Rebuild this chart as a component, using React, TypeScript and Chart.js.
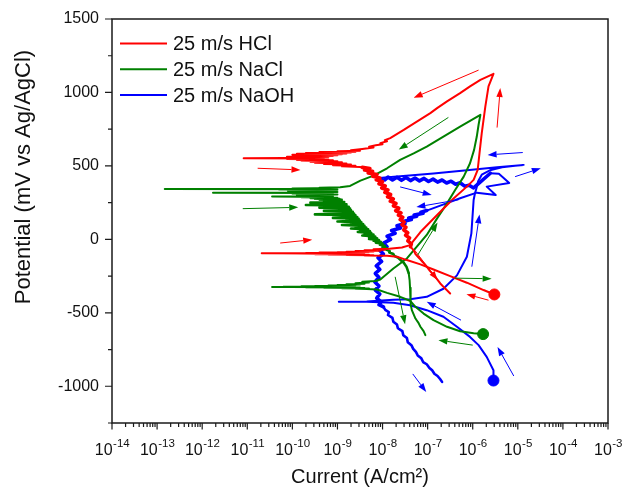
import { useEffect, useRef } from 'react';
import { Chart, registerables } from 'chart.js';

Chart.register(...registerables);

// Each point: [log10 of current density (A/cm²), potential (mV vs Ag/AgCl)]
type Pt = [number, number];

// ---------------- 25 m/s HCl ----------------
const hclForwardCathodic: Pt[] = [
  [-5.52, -375], [-5.76, -345], [-6.13, -295], [-6.5, -250], [-6.87, -205],
  [-7.16, -170], [-7.46, -141], [-7.68, -118], [-7.9, -112],
];
const hclForwardEcorr: Pt[] = [
  [-8.4, -110], [-8.2, -108], [-8.8, -106], [-8.3, -105], [-9.2, -103], [-8.4, -102],
  [-9.5, -100.5], [-8.6, -99.5], [-9.9, -98.5], [-8.7, -97.5], [-10.2, -96.5], [-8.9, -96],
  [-10.68, -95], [-9.0, -94.5], [-10.3, -94], [-8.8, -93], [-9.7, -92], [-8.6, -91],
  [-9.4, -90], [-8.5, -88.5], [-9.0, -87], [-8.3, -85.5], [-8.8, -84], [-8.2, -82],
  [-8.6, -80], [-8.05, -77], [-8.4, -74], [-7.95, -71], [-8.2, -68], [-7.85, -64],
];
const hclForwardAnodic: Pt[] = [
  [-7.57, -55], [-7.39, -39], [-7.16, 50], [-6.79, 166], [-6.42, 280], [-6.13, 359],
  [-5.98, 405], [-5.89, 473], [-5.85, 586], [-5.8, 723], [-5.72, 905], [-5.65, 1041],
  [-5.54, 1127],
];
const hclReverseUpper: Pt[] = [
  [-5.83, 1086], [-6.06, 1041], [-6.28, 995], [-6.57, 939], [-6.79, 893], [-6.94, 859],
  [-7.24, 802], [-7.53, 745], [-7.83, 689], [-7.95, 675], [-7.9, 668], [-8.05, 655],
  [-8.0, 648], [-8.15, 640], [-8.3, 630], [-8.2, 625], [-8.45, 615], [-8.6, 610],
];
const hclReverseEcorr: Pt[] = [
  [-8.7, 606], [-8.5, 603], [-9.0, 600], [-8.6, 597], [-9.4, 594], [-8.7, 591],
  [-9.7, 588], [-8.8, 585], [-9.9, 582], [-8.9, 579], [-10.0, 576], [-9.0, 573],
  [-9.8, 570], [-9.1, 567], [-10.12, 563], [-9.2, 560], [-9.9, 557], [-9.3, 555],
  [-11.08, 552], [-9.4, 550], [-10.12, 547], [-9.2, 544], [-9.9, 541], [-9.1, 538],
  [-9.8, 535], [-9.0, 532], [-9.6, 528], [-8.9, 525], [-9.5, 521], [-8.8, 517],
  [-9.3, 513], [-8.7, 509], [-9.1, 505], [-8.6, 501], [-8.9, 497], [-8.5, 493],
];
const hclReverseBand: Pt[] = [
  [-8.45, 490], [-8.28, 482], [-8.4, 472], [-8.22, 463], [-8.32, 452], [-8.12, 442],
  [-8.22, 430], [-8.06, 418], [-8.14, 405], [-8.0, 392], [-8.08, 378], [-7.94, 364],
  [-8.02, 350], [-7.88, 336], [-7.95, 320], [-7.82, 305], [-7.89, 290], [-7.76, 275],
  [-7.83, 260], [-7.7, 245], [-7.76, 228], [-7.64, 212], [-7.71, 195], [-7.59, 180],
  [-7.65, 165], [-7.55, 150], [-7.61, 135], [-7.52, 118], [-7.57, 100], [-7.48, 82],
  [-7.53, 64], [-7.44, 45], [-7.49, 28], [-7.4, 10], [-7.44, -10], [-7.36, -30],
];
const hclReverseTail: Pt[] = [
  [-7.38, -50], [-7.31, -75], [-7.27, -100], [-7.18, -130], [-7.12, -152], [-7.02, -185],
  [-6.95, -214], [-6.83, -255], [-6.72, -300], [-6.61, -335], [-6.5, -368],
];

// ---------------- 25 m/s NaCl ----------------
const naclForwardCathodic: Pt[] = [
  [-5.77, -645], [-5.98, -639], [-6.28, -625], [-6.57, -595], [-6.87, -550], [-7.09, -505],
  [-7.27, -459], [-7.39, -418], [-7.61, -391], [-7.9, -364], [-8.12, -341],
];
const naclForwardEcorr: Pt[] = [
  [-8.35, -338], [-8.6, -336], [-8.3, -334], [-8.9, -332], [-8.4, -330.5], [-9.3, -329],
  [-8.5, -328], [-9.7, -327], [-8.6, -326], [-10.1, -325], [-8.8, -324.2], [-10.45, -323.5],
  [-9.0, -323], [-10.2, -322], [-8.9, -321], [-9.8, -320], [-8.8, -318.5], [-9.5, -317],
  [-8.7, -315.5], [-9.2, -314], [-8.6, -312], [-9.0, -310], [-8.5, -308], [-8.8, -305],
  [-8.4, -302], [-8.6, -298], [-8.3, -294], [-8.45, -289], [-8.15, -283],
];
const naclForwardAnodic: Pt[] = [
  [-8.05, -273], [-7.76, -198], [-7.46, -130], [-7.24, -50], [-7.02, 30], [-6.79, 143],
  [-6.57, 245], [-6.39, 336], [-6.2, 427], [-6.06, 518], [-5.97, 609], [-5.91, 700],
  [-5.87, 780], [-5.83, 848],
];
const naclReverseUpper: Pt[] = [
  [-6.28, 768], [-6.65, 700], [-7.02, 632], [-7.31, 586], [-7.61, 541], [-7.9, 484],
  [-8.2, 434], [-8.49, 400], [-8.72, 364], [-8.94, 354],
];
const naclReverseEcorr: Pt[] = [
  [-9.4, 352], [-9.0, 349], [-10.0, 347], [-9.1, 345], [-12.83, 343], [-9.2, 341],
  [-10.3, 339], [-9.0, 337], [-9.9, 335], [-9.1, 333], [-10.1, 331], [-9.2, 329],
  [-9.7, 326], [-9.0, 323], [-9.9, 321], [-9.2, 319], [-11.76, 318], [-9.3, 316],
  [-10.0, 313], [-9.1, 311], [-9.8, 308], [-9.0, 305], [-9.9, 302], [-9.2, 299],
  [-9.7, 296], [-9.1, 293], [-10.45, 291], [-9.2, 289], [-9.8, 286], [-9.0, 283],
  [-9.6, 280], [-8.95, 277], [-9.5, 274], [-8.9, 271], [-9.4, 268], [-8.9, 264],
];
const naclReverseBand: Pt[] = [
  [-9.3, 258], [-8.85, 254], [-9.6, 250], [-8.85, 246], [-9.2, 242], [-8.8, 238],
  [-9.7, 234], [-8.8, 230], [-9.1, 226], [-8.75, 222], [-9.4, 216], [-8.72, 210],
  [-9.0, 205], [-8.7, 200], [-9.3, 194], [-8.66, 188], [-8.95, 182], [-8.63, 176],
  [-9.5, 170], [-8.6, 164], [-8.85, 158], [-8.56, 152], [-9.1, 146], [-8.53, 140],
  [-8.8, 134], [-8.5, 128], [-9.0, 122], [-8.47, 116], [-8.7, 110], [-8.43, 104],
  [-8.9, 98], [-8.4, 92], [-8.6, 86], [-8.36, 80], [-8.7, 74], [-8.32, 68],
  [-8.5, 62], [-8.28, 56], [-8.55, 50], [-8.25, 44], [-8.4, 38], [-8.2, 32],
  [-8.45, 26], [-8.16, 20], [-8.3, 14], [-8.12, 8], [-8.3, 2], [-8.08, -4],
  [-8.2, -10], [-8.04, -16], [-8.15, -22], [-8.0, -28], [-8.06, -36], [-7.95, -44],
  [-8.0, -52], [-7.9, -60], [-7.92, -70], [-7.84, -80], [-7.85, -90], [-7.76, -100],
  [-7.74, -112], [-7.66, -124], [-7.6, -140], [-7.53, -160], [-7.47, -186],
];
const naclReverseTail: Pt[] = [
  [-7.42, -230], [-7.4, -277], [-7.39, -330], [-7.385, -391], [-7.37, -440], [-7.35, -482],
  [-7.27, -539], [-7.2, -570], [-7.16, -595], [-7.09, -625], [-7.05, -652],
];

// ---------------- 25 m/s NaOH ----------------
const naohForwardCathodic: Pt[] = [
  [-5.54, -961], [-5.54, -891], [-5.69, -800], [-5.87, -720], [-6.06, -664], [-6.35, -595],
  [-6.65, -527], [-7.02, -482], [-7.39, -448], [-7.76, -432], [-8.35, -425], [-8.97, -425],
];
const naohForwardAnodic: Pt[] = [
  [-8.35, -423], [-7.76, -411], [-7.39, -407], [-7.02, -391], [-6.65, -336], [-6.35, -245],
  [-6.13, -118], [-6.03, 41], [-6.0, 177], [-5.98, 268], [-5.95, 314], [-5.92, 345],
  [-5.88, 395], [-5.8, 440], [-5.62, 470], [-5.35, 490], [-4.87, 507],
];
const naohReverseTop: Pt[] = [
  [-5.46, 491], [-6.13, 470], [-6.87, 448], [-7.61, 430], [-8.01, 420], [-8.09, 418],
];
const naohReverseBand: Pt[] = [
  [-7.95, 405], [-7.88, 424], [-7.78, 404], [-7.68, 423], [-7.58, 402], [-7.48, 421],
  [-7.38, 400], [-7.28, 418], [-7.18, 398], [-7.08, 415], [-6.98, 394], [-6.88, 410],
  [-6.78, 390], [-6.68, 404], [-6.58, 384], [-6.48, 396], [-6.38, 375], [-6.28, 385],
  [-6.18, 362], [-6.08, 368], [-5.98, 350],
];
const naohPitting: Pt[] = [
  [-5.61, 450], [-5.42, 447], [-5.19, 384], [-5.69, 359], [-5.49, 302], [-5.91, 318],
  [-6.28, 280], [-6.72, 230],
];
const naohReverseArc: Pt[] = [
  [-7.02, 196], [-7.15, 185], [-7.1, 178], [-7.3, 165],
  [-7.24, 158], [-7.42, 145], [-7.36, 135], [-7.56, 120], [-7.5, 108], [-7.68, 92],
  [-7.6, 78], [-7.8, 60], [-7.72, 42], [-7.9, 22], [-7.82, 0], [-7.98, -25],
  [-7.9, -50], [-8.06, -75], [-7.98, -100], [-8.1, -125], [-8.02, -150], [-8.14, -180],
  [-8.06, -205], [-8.16, -232], [-8.08, -260], [-8.17, -290], [-8.08, -318], [-8.16, -345],
  [-8.06, -372], [-8.13, -400], [-8.03, -425], [-8.08, -445],
];
const naohReverseTail: Pt[] = [
  [-7.98, -460], [-7.94, -480], [-7.86, -495], [-7.88, -515], [-7.78, -535], [-7.76, -561],
  [-7.68, -580], [-7.66, -605], [-7.56, -625], [-7.54, -652], [-7.46, -672], [-7.44, -700],
  [-7.36, -720], [-7.32, -745], [-7.26, -766], [-7.22, -790], [-7.14, -810], [-7.1, -835],
  [-7.02, -850], [-6.96, -875], [-6.9, -891], [-6.85, -915], [-6.78, -930], [-6.72, -952],
  [-6.68, -970],
];

// Scan-direction arrows: [from log10 I, from mV, to log10 I, to mV]
type Arrow = [number, number, number, number];
const hclArrows: Arrow[] = [
  [-5.87, 1152, -7.31, 964], [-5.46, 761, -5.39, 1030], [-10.77, 484, -9.82, 473],
  [-10.27, -25, -9.56, -2], [-5.65, -414, -6.14, -373], [-7.29, -73, -6.78, -277],
];
const naclArrows: Arrow[] = [
  [-6.54, 830, -7.64, 611], [-11.1, 209, -9.87, 218], [-7.22, -107, -6.78, 114],
  [-6.39, -264, -5.58, -268], [-7.72, -255, -7.5, -577], [-6.0, -720, -6.76, -686],
];
const naohArrows: Arrow[] = [
  [-4.89, 591, -5.67, 575], [-5.06, 427, -4.49, 484], [-7.61, 357, -6.91, 302],
  [-6.31, 270, -7.25, 220], [-6.02, -186, -5.85, 170], [-6.26, -550, -7.02, -425],
  [-5.09, -930, -5.45, -732], [-7.33, -916, -7.03, -1039],
];

const seriesLabels = ['25 m/s HCl', '25 m/s NaCl', '25 m/s NaOH'];
// each series is drawn as one continuous scan, piece by piece
const seriesPieces: Pt[][][] = [
  [hclForwardCathodic, hclForwardEcorr, hclForwardAnodic, hclReverseUpper, hclReverseEcorr, hclReverseBand, hclReverseTail],
  [naclForwardCathodic, naclForwardEcorr, naclForwardAnodic, naclReverseUpper, naclReverseEcorr, naclReverseBand, naclReverseTail],
  [naohForwardCathodic, naohForwardAnodic, naohReverseTop, naohReverseBand, naohPitting, naohReverseArc, naohReverseTail],
];
const seriesArrows: Arrow[][] = [hclArrows, naclArrows, naohArrows];

// styling
const seriesColors = ['#ff0000', '#008000', '#0000ff'];
const noisyPieces = [hclReverseBand, naohReverseBand, naohReverseArc];
const wigglyPieces = [naohReverseTail, naclReverseBand];

const xTickExponents = [-14, -13, -12, -11, -10, -9, -8, -7, -6, -5, -4, -3];
const yTickValues = [-1000, -500, 0, 500, 1000, 1500];
const Y_MIN = -1250;
const Y_MAX = 1500;
const Y_MINOR_STEP = 250;

const FONT = 'Arial, "Liberation Sans", Helvetica, sans-serif';

const decorPlugin = {
  id: 'decor',
  afterDatasetsDraw(chart: any) {
    const { ctx, chartArea } = chart;
    const xs = chart.scales.x;
    const ys = chart.scales.y;
    const { left, right, top, bottom } = chartArea;
    ctx.save();
    // arrows
    seriesArrows.forEach((list, si) => {
      ctx.strokeStyle = seriesColors[si];
      ctx.fillStyle = seriesColors[si];
      ctx.lineWidth = 1;
      list.forEach(([l1, e1, l2, e2]) => {
        const x1 = xs.getPixelForValue(10 ** l1);
        const y1 = ys.getPixelForValue(e1);
        const x2 = xs.getPixelForValue(10 ** l2);
        const y2 = ys.getPixelForValue(e2);
        const ang = Math.atan2(y2 - y1, x2 - x1);
        const hl = 9;
        const hw = 3.2;
        const bx = x2 - hl * Math.cos(ang);
        const by = y2 - hl * Math.sin(ang);
        ctx.beginPath();
        ctx.moveTo(x1, y1);
        ctx.lineTo(bx, by);
        ctx.stroke();
        ctx.beginPath();
        ctx.moveTo(x2, y2);
        ctx.lineTo(bx + hw * Math.sin(ang), by - hw * Math.cos(ang));
        ctx.lineTo(bx - hw * Math.sin(ang), by + hw * Math.cos(ang));
        ctx.closePath();
        ctx.fill();
      });
    });
    // frame
    ctx.strokeStyle = '#1a1a1a';
    ctx.lineWidth = 1.5;
    ctx.strokeRect(left, top, right - left, bottom - top);
    // outward tick marks
    ctx.lineWidth = 1.2;
    ctx.beginPath();
    xTickExponents.forEach((e, idx) => {
      for (let k = 1; k <= 9; k++) {
        if (idx === xTickExponents.length - 1 && k > 1) break;
        const px = xs.getPixelForValue(k * 10 ** e);
        const len = k === 1 ? 6.5 : 4;
        ctx.moveTo(px, bottom);
        ctx.lineTo(px, bottom + len);
      }
    });
    for (let v = Y_MIN; v <= Y_MAX; v += Y_MINOR_STEP) {
      const py = ys.getPixelForValue(v);
      const len = v % 500 === 0 ? 7 : 4;
      ctx.moveTo(left, py);
      ctx.lineTo(left - len, py);
    }
    ctx.stroke();
    // x tick labels: 10 with superscript exponent
    ctx.fillStyle = '#111';
    ctx.textBaseline = 'alphabetic';
    ctx.textAlign = 'left';
    xTickExponents.forEach((e) => {
      const px = xs.getPixelForValue(10 ** e);
      const base = '10';
      const exp = String(e);
      ctx.font = `16px ${FONT}`;
      const wb = ctx.measureText(base).width;
      ctx.font = `11.5px ${FONT}`;
      const we = ctx.measureText(exp).width;
      const x0 = px - (wb + we) / 2;
      ctx.font = `16px ${FONT}`;
      ctx.fillText(base, x0, 455);
      ctx.font = `11.5px ${FONT}`;
      ctx.fillText(exp, x0 + wb + 0.5, 447);
    });
    // axis titles
    ctx.font = `20px ${FONT}`;
    ctx.textAlign = 'center';
    ctx.fillText('Current (A/cm\u00B2)', (left + right) / 2, 483);
    ctx.save();
    ctx.translate(30, 177);
    ctx.rotate(-Math.PI / 2);
    ctx.font = `22px ${FONT}`;
    ctx.fillText('Potential (mV vs Ag/AgCl)', 0, 0);
    ctx.restore();
    // legend
    ctx.font = `20px ${FONT}`;
    ctx.textAlign = 'left';
    ctx.textBaseline = 'middle';
    chart.data.datasets.forEach((ds: any, i: number) => {
      const yy = 43.5 + i * 25.8;
      ctx.strokeStyle = ds.borderColor;
      ctx.lineWidth = 2;
      ctx.beginPath();
      ctx.moveTo(120, yy);
      ctx.lineTo(167, yy);
      ctx.stroke();
      ctx.fillStyle = '#111';
      ctx.fillText(ds.label, 173, yy + 1);
    });
    ctx.restore();
  },
};

export default function App() {
  const ref = useRef<HTMLCanvasElement | null>(null);
  useEffect(() => {
    if (!ref.current) return;
    const datasets = seriesPieces.map((pieces, i) => {
      const widths: number[] = [];
      pieces.forEach((p) => {
        const w = noisyPieces.includes(p) ? 3.6 : wigglyPieces.includes(p) ? 2.6 : 2;
        p.forEach(() => widths.push(w));
      });
      return {
        label: seriesLabels[i],
        data: pieces.flat().map(([l, e]) => ({ x: 10 ** l, y: e })),
        showLine: true,
        borderColor: seriesColors[i],
        backgroundColor: seriesColors[i],
        borderWidth: 2,
        borderJoinStyle: 'round' as const,
        borderCapStyle: 'round' as const,
        tension: 0,
        segment: { borderWidth: (c: any) => widths[c.p0DataIndex] ?? 2 },
        pointRadius: (c: any) => (c.dataIndex === 0 ? 5.5 : 0),
        pointHoverRadius: 0,
        pointBackgroundColor: seriesColors[i],
        pointBorderColor: seriesColors[i],
        pointBorderWidth: 1,
      };
    });
    const chart = new Chart(ref.current, {
      type: 'scatter',
      data: { datasets },
      options: {
        animation: false,
        responsive: false,
        events: [],
        layout: { padding: { top: 19, right: 21, left: 0, bottom: 0 } },
        plugins: { legend: { display: false }, tooltip: { enabled: false } },
        scales: {
          x: {
            type: 'logarithmic',
            min: 1e-14,
            max: 1e-3,
            grid: { display: false, drawTicks: false },
            border: { display: false },
            afterBuildTicks: (s: any) => {
              s.ticks = xTickExponents.map((e) => ({ value: 10 ** e }));
            },
            afterFit: (s: any) => {
              s.height = 64;
              s.paddingLeft = 0;
              s.paddingRight = 0;
            },
            ticks: { display: false },
          },
          y: {
            type: 'linear',
            min: Y_MIN,
            max: Y_MAX,
            grid: { display: false, drawTicks: false },
            border: { display: false },
            afterBuildTicks: (s: any) => {
              s.ticks = yTickValues.map((v) => ({ value: v }));
            },
            afterFit: (s: any) => {
              s.width = 112;
              s.paddingTop = 0;
              s.paddingBottom = 0;
            },
            ticks: {
              padding: 13,
              color: '#111',
              font: { family: FONT, size: 16 },
              callback: (v: any) => String(v),
            },
          },
        },
      },
      plugins: [decorPlugin],
    } as any);
    return () => chart.destroy();
  }, []);
  return (
    <div style={{ position: 'fixed', left: 0, top: 0, width: 629, height: 487, background: '#fff' }}>
      <canvas ref={ref} width={629} height={487} style={{ display: 'block' }} />
    </div>
  );
}
